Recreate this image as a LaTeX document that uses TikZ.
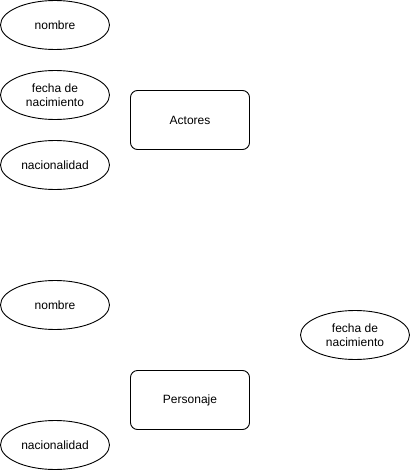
\documentclass[tikz,border=0pt]{standalone}
\usepackage{fontspec}
\setmainfont{Liberation Sans}
\usetikzlibrary{shapes.geometric}
\begin{document}
\begin{tikzpicture}[x=1pt,y=-1pt,
  attr/.style={draw, ellipse, line width=0.9pt, minimum width=109pt, minimum height=49pt, inner sep=0pt, align=center, font=\fontsize{12}{14}\selectfont},
  entity/.style={draw, rectangle, rounded corners=7pt, line width=0.9pt, minimum width=119pt, minimum height=59pt, inner sep=0pt, align=center, font=\fontsize{12}{14}\selectfont}]
\useasboundingbox (0,0) rectangle (411,471);
\node[attr] (n1) at (55,25) {nombre};
\node[attr] (f1) at (55,95) {fecha de\\nacimiento};
\node[attr] (c1) at (55,165) {nacionalidad};
\node[entity] (a) at (190,120) {Actores};
\node[attr] (n2) at (55,305) {nombre};
\node[attr] (f2) at (355,335) {fecha de\\nacimiento};
\node[attr] (c2) at (55,445) {nacionalidad};
\node[entity] (p) at (190,400) {Personaje};
\end{tikzpicture}
\end{document}
